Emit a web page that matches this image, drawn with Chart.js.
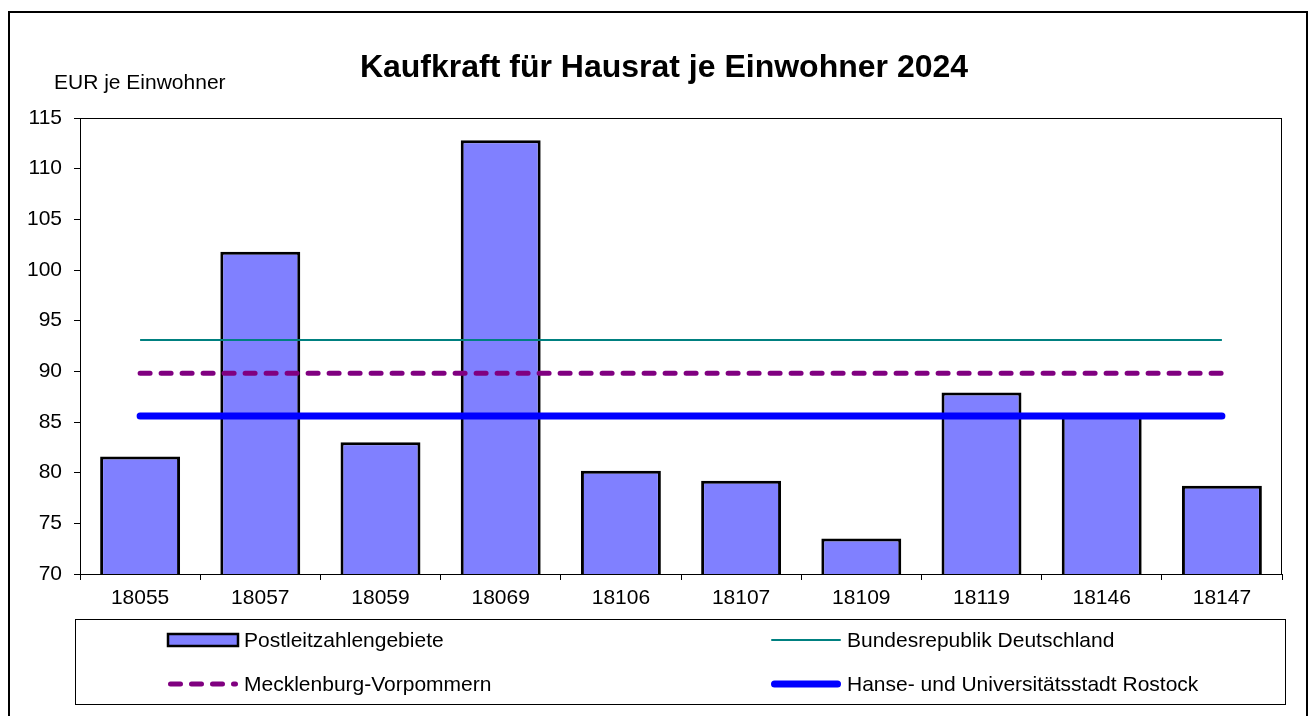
<!DOCTYPE html>
<html>
<head>
<meta charset="utf-8">
<script src="https://cdn.jsdelivr.net/npm/chart.js@4"></script>
<style>
  html, body { margin: 0; padding: 0; background: #fff; }
  canvas { display: block; }
</style>
</head>
<body>
<canvas id="kaufkraftChart" width="1311" height="716"></canvas>
<script>
// data
const plzLabels = ["18055", "18057", "18059", "18069", "18106", "18107", "18109", "18119", "18146", "18147"];
const plzValues = [81.6, 101.8, 83.0, 112.8, 80.2, 79.2, 73.5, 87.9, 85.9, 78.7];
const brdValues = [93.1, 93.1, 93.1, 93.1, 93.1, 93.1, 93.1, 93.1, 93.1, 93.1];
const mvValues = [89.8, 89.8, 89.8, 89.8, 89.8, 89.8, 89.8, 89.8, 89.8, 89.8];
const rostockValues = [85.6, 85.6, 85.6, 85.6, 85.6, 85.6, 85.6, 85.6, 85.6, 85.6];
const yTicks = { min: 70, max: 115, step: 5 };

const FONT = "'Liberation Sans', Arial, sans-serif";

// frame, title, unit label, plot border and the boxed legend
const decorPlugin = {
    id: "decor",
    afterDraw(chart) {
        const c = chart.ctx;
        const a = chart.chartArea;
        const ds = chart.data.datasets;
        c.save();

        // outer frame
        c.strokeStyle = "#000";
        c.lineWidth = 2;
        c.strokeRect(9, 12, 1298, 720);

        // plot border
        c.lineWidth = 1;
        c.strokeRect(a.left + 0.5, a.top + 0.5, a.right - a.left - 1, a.bottom - a.top);

        // title
        c.fillStyle = "#000";
        c.textBaseline = "middle";
        c.textAlign = "center";
        c.font = "bold 32px " + FONT;
        c.fillText("Kaufkraft für Hausrat je Einwohner 2024", 664, 68);

        c.textAlign = "left";
        c.font = "21px " + FONT;
        c.fillText("EUR je Einwohner", 54, 83);

        // legend box
        c.strokeStyle = "#000";
        c.lineWidth = 1;
        c.strokeRect(75.5, 619.5, 1210, 85);

        const row1 = 640, row2 = 684;
        const items = [
            { ds: ds[3], x: 168, y: row1, kind: "box" },
            { ds: ds[0], x: 771, y: row1, kind: "line" },
            { ds: ds[1], x: 168, y: row2, kind: "line" },
            { ds: ds[2], x: 771, y: row2, kind: "line" }
        ];
        items.forEach(it => {
            const d = it.ds;
            if (it.kind === "box") {
                c.fillStyle = d.backgroundColor;
                c.fillRect(it.x, it.y - 6, 70, 12);
                c.strokeStyle = "#000";
                c.lineWidth = 2.5;
                c.strokeRect(it.x, it.y - 6, 70, 12);
            } else {
                c.beginPath();
                c.strokeStyle = d.borderColor;
                c.lineWidth = d.borderWidth;
                c.lineCap = "round";
                c.setLineDash(d.borderDash || []);
                c.moveTo(it.x + d.borderWidth / 2, it.y);
                c.lineTo(it.x + 70 - d.borderWidth / 2, it.y);
                c.stroke();
                c.setLineDash([]);
            }
            c.fillStyle = "#000";
            c.font = "21px " + FONT;
            c.fillText(d.label, it.x + 76, it.y + 1);
        });

        c.restore();
    }
};

const lineStyle = { type: "line", pointRadius: 0, fill: false, tension: 0, order: 0 };

new Chart(document.getElementById("kaufkraftChart"), {
    data: {
        labels: plzLabels,
        datasets: [
            Object.assign({}, lineStyle, {
                label: "Bundesrepublik Deutschland",
                data: brdValues,
                borderColor: "#008080",
                borderWidth: 2
            }),
            Object.assign({}, lineStyle, {
                label: "Mecklenburg-Vorpommern",
                data: mvValues,
                borderColor: "#800080",
                borderWidth: 5,
                borderDash: [10, 11],
                borderCapStyle: "round"
            }),
            Object.assign({}, lineStyle, {
                label: "Hanse- und Universitätsstadt Rostock",
                data: rostockValues,
                borderColor: "#0000ff",
                borderWidth: 7,
                borderCapStyle: "round"
            }),
            {
                type: "bar",
                label: "Postleitzahlengebiete",
                data: plzValues,
                backgroundColor: "#8080ff",
                borderColor: "#000",
                borderWidth: 3,
                borderSkipped: false,
                barPercentage: 0.665,
                categoryPercentage: 1,
                order: 1
            }
        ]
    },
    options: {
        responsive: false,
        animation: false,
        layout: { padding: { top: 118, right: 29, bottom: 102, left: 0 } },
        plugins: {
            legend: { display: false },
            title: { display: false },
            tooltip: { enabled: false }
        },
        scales: {
            x: {
                offset: true,
                grid: { offset: true, drawOnChartArea: false, tickLength: 6, color: "#000" },
                border: { color: "#000", width: 1 },
                ticks: { color: "#000", padding: 6, font: { family: FONT, size: 21 } },
                afterFit(scale) { scale.height = 40; }
            },
            y: {
                min: yTicks.min,
                max: yTicks.max,
                grid: { drawOnChartArea: false, tickLength: 6, color: "#000" },
                border: { color: "#000", width: 1 },
                ticks: { stepSize: yTicks.step, color: "#000", padding: 12, font: { family: FONT, size: 21 } },
                afterFit(scale) { scale.width = 80; }
            }
        }
    },
    plugins: [decorPlugin]
});
</script>
</body>
</html>
